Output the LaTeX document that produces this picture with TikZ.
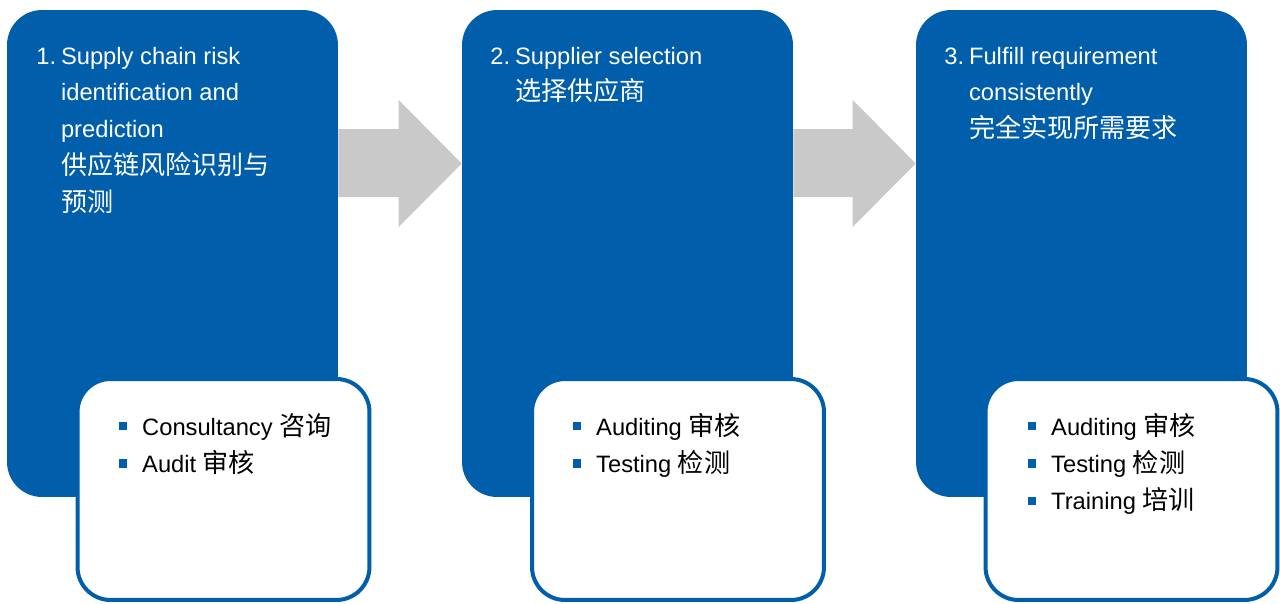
\documentclass[tikz,border=0pt]{standalone}
\usepackage{fontspec}
\setmainfont{Liberation Sans}
\newfontfamily\cjk{Noto Sans CJK SC}[Scale=1.1]
\usetikzlibrary{positioning, calc}
\definecolor{stepblue}{RGB}{0,94,170}
\definecolor{arrowgray}{RGB}{200,201,200}
\newcommand{\sqbullet}{\textcolor{stepblue}{\rule[2.8pt]{4.6pt}{4.6pt}}\hspace{8.4pt}}
\tikzset{
    stagebox/.style={rectangle, rounded corners=0.7cm, fill=stepblue, minimum width=6.62cm, minimum height=9.74cm, inner sep=0pt},
    servicebox/.style={rectangle, rounded corners=0.66cm, draw=stepblue, fill=white, line width=0.08cm, minimum width=5.84cm, minimum height=4.42cm, inner sep=0pt},
    headtext/.style={anchor=base west, inner sep=0pt, text=white, font=\fontsize{13.5}{21}\selectfont},
    itemtext/.style={anchor=base west, inner sep=0pt, text=black, font=\fontsize{13.5}{21.3}\selectfont},
    flowarrow/.style={fill=arrowgray}
}

\begin{document}
\begin{tikzpicture}[x=0.02cm, y=-0.02cm]
    \useasboundingbox (0,0) rectangle (1280,603);
    \fill[white] (0,0) rectangle (1280,603);

    % Stage boxes
    \node[stagebox] (b1) at (172.5,253.5) {};
    \node[stagebox] (b2) at (627.5,253.5) {};
    \node[stagebox] (b3) at (1081.5,253.5) {};

    % Arrows between stages
    \fill[flowarrow] (b1.east |- 0,129) -- ($(b2.west |- 0,129)+(-63,0)$) -- ($(b2.west |- 0,100)+(-63,0)$)
        -- (b2.west |- 0,163.5) -- ($(b2.west |- 0,227)+(-63,0)$) -- ($(b2.west |- 0,197)+(-63,0)$) -- (b1.east |- 0,197) -- cycle;
    \fill[flowarrow] (b2.east |- 0,129) -- ($(b3.west |- 0,129)+(-63,0)$) -- ($(b3.west |- 0,100)+(-63,0)$)
        -- (b3.west |- 0,163.5) -- ($(b3.west |- 0,227)+(-63,0)$) -- ($(b3.west |- 0,197)+(-63,0)$) -- (b2.east |- 0,197) -- cycle;

    % Service boxes
    \node[servicebox] (s1) at (223.5,489.5) {};
    \node[servicebox] (s2) at (678,489.5) {};
    \node[servicebox] (s3) at (1131.5,489.5) {};

    % Stage titles
    \node[headtext] (h1) at (36,64) {\begin{tabular}[t]{@{}l@{\hspace{2.8pt}}l@{}}1. & Supply chain risk\\ & identification and\\ & prediction\\ & {\cjk 供应链风险识别与}\\ & {\cjk 预测}\end{tabular}};
    \node[headtext] (h2) at (490,64) {\begin{tabular}[t]{@{}l@{\hspace{2.8pt}}l@{}}2. & Supplier selection\\ & {\cjk 选择供应商}\end{tabular}};
    \node[headtext] (h3) at (944,64) {\begin{tabular}[t]{@{}l@{\hspace{2.8pt}}l@{}}3. & Fulfill requirement\\ & consistently\\ & {\cjk 完全实现所需要求}\end{tabular}};

    % Services
    \node[itemtext] (l1) at (119,435) {\begin{tabular}[t]{@{}l@{}}\sqbullet Consultancy {\cjk 咨询}\\ \sqbullet Audit {\cjk 审核}\end{tabular}};
    \node[itemtext] (l2) at (573,435) {\begin{tabular}[t]{@{}l@{}}\sqbullet Auditing {\cjk 审核}\\ \sqbullet Testing {\cjk 检测}\end{tabular}};
    \node[itemtext] (l3) at (1028,435) {\begin{tabular}[t]{@{}l@{}}\sqbullet Auditing {\cjk 审核}\\ \sqbullet Testing {\cjk 检测}\\ \sqbullet Training {\cjk 培训}\end{tabular}};
\end{tikzpicture}
\end{document}
